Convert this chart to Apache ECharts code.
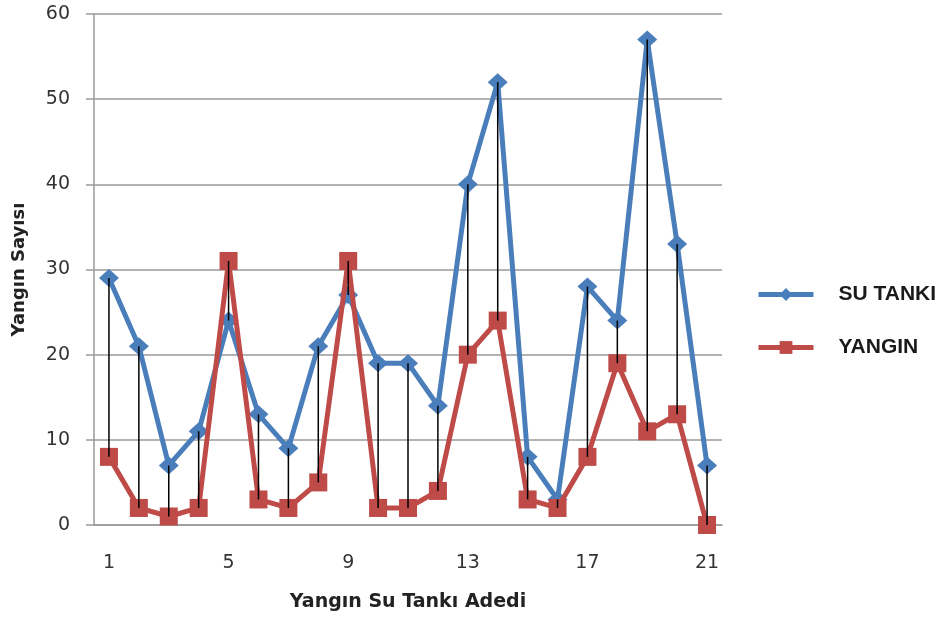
<!DOCTYPE html>
<html>
<head>
<meta charset="utf-8">
<script src="https://cdn.jsdelivr.net/npm/echarts@6/dist/echarts.min.js"></script>
<style>
  html, body { margin: 0; padding: 0; background: #fff; }
  #chart { width: 941px; height: 621px; }
</style>
</head>
<body>
<div id="chart"></div>
<script>
// Tank counts along the x axis
const categories = ['1','2','3','4','5','6','7','8','9','10','11','12','13','14','15','16','17','18','19','20','21'];
// Water tanks per point
const suTanki = [29, 21, 7, 11, 24, 13, 9, 21, 27, 19, 19, 14, 40, 52, 8, 3, 28, 24, 57, 33, 7];
// Fires per point
const yangin  = [8, 2, 1, 2, 31, 3, 2, 5, 31, 2, 2, 4, 20, 24, 3, 2, 8, 19, 11, 13, 0];
// Value axis ticks
const yTicks = { min: 0, max: 60, interval: 10 };

const BLUE = '#4a7ebb';
const RED = '#be4b48';
const GRID = '#9a9a9a';

// Pairs used for the high-low connector lines
const hiLo = categories.map((c, i) => [i, suTanki[i], yangin[i]]);

const chart = echarts.init(document.getElementById('chart'), null, { renderer: 'canvas' });
chart.setOption({
  backgroundColor: '#fff',
  animation: false,
  grid: { left: 94, right: 219, top: 14, bottom: 96, outerBoundsMode: 'none', containLabel: false },
  legend: {
    data: ['SU TANKI', 'YANGIN'],
    orient: 'vertical',
    left: 756,
    top: 284,
    padding: 0,
    itemWidth: 55,
    itemHeight: 16,
    itemGap: 32,
    lineStyle: { width: 5 },
    textStyle: {
      fontFamily: 'Liberation Sans, Arial, sans-serif',
      fontWeight: 'bold',
      fontSize: 21,
      color: '#1a1a1a',
      padding: [0, 0, 0, 20]
    }
  },
  xAxis: {
    type: 'category',
    data: categories,
    boundaryGap: true,
    name: 'Yangın Su Tankı Adedi',
    nameLocation: 'middle',
    nameGap: 68,
    nameTextStyle: {
      fontFamily: 'DejaVu Sans, sans-serif',
      fontWeight: 'bold',
      fontSize: 19,
      color: '#222'
    },
    axisLine: { show: true, lineStyle: { color: GRID, width: 1.5 } },
    axisTick: { show: false },
    axisLabel: {
      interval: 3,
      margin: 29,
      fontFamily: 'DejaVu Sans, sans-serif',
      fontSize: 19,
      color: '#333'
    },
    splitLine: { show: false }
  },
  yAxis: {
    type: 'value',
    min: yTicks.min,
    max: yTicks.max,
    interval: yTicks.interval,
    name: 'Yangın Sayısı',
    nameLocation: 'middle',
    nameRotate: 90,
    nameGap: 66,
    nameTextStyle: {
      fontFamily: 'DejaVu Sans, sans-serif',
      fontWeight: 'bold',
      fontSize: 18,
      color: '#222'
    },
    axisLine: { show: true, lineStyle: { color: GRID, width: 1.5 } },
    axisTick: { show: true, inside: false, length: 8, lineStyle: { color: GRID, width: 1.5 } },
    axisLabel: {
      margin: 24,
      fontFamily: 'DejaVu Sans, sans-serif',
      fontSize: 19,
      color: '#333'
    },
    splitLine: { show: true, lineStyle: { color: GRID, width: 1.5 } }
  },
  series: [
    {
      name: 'SU TANKI',
      type: 'line',
      data: suTanki,
      symbol: 'diamond',
      symbolSize: [20, 18],
      lineStyle: { color: BLUE, width: 5 },
      itemStyle: { color: BLUE },
      z: 2
    },
    {
      name: 'YANGIN',
      type: 'line',
      data: yangin,
      symbol: 'rect',
      symbolSize: 18,
      lineStyle: { color: RED, width: 5 },
      itemStyle: { color: RED },
      z: 3
    },
    {
      name: 'hilo',
      type: 'custom',
      data: hiLo,
      encode: { x: 0, y: [1, 2] },
      z: 5,
      silent: true,
      renderItem: function (params, api) {
        const a = api.coord([api.value(0), api.value(1)]);
        const b = api.coord([api.value(0), api.value(2)]);
        return {
          type: 'line',
          shape: { x1: a[0], y1: a[1], x2: b[0], y2: b[1] },
          style: { stroke: '#000', lineWidth: 1.5 }
        };
      }
    }
  ]
});
</script>
</body>
</html>
